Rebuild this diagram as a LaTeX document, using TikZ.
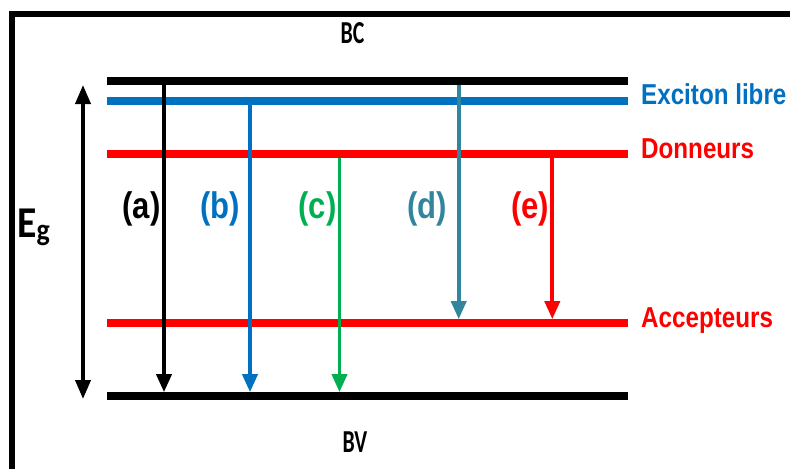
\documentclass[tikz,border=0pt]{standalone}
\usepackage{fontspec}
\usetikzlibrary{arrows.meta}
\newfontfamily\lblfont[FakeStretch=0.84]{Liberation Sans}
\newfontfamily\bandfont[FakeStretch=0.68]{Carlito}
\newfontfamily\egfont[FakeStretch=0.9]{Carlito}
\definecolor{excitonblue}{RGB}{0,112,192}
\definecolor{impurred}{RGB}{255,0,0}
\definecolor{transgreen}{RGB}{0,176,80}
\definecolor{transteal}{RGB}{49,133,156}
\begin{document}
\begin{tikzpicture}[
  level/.style={line width=7.7pt},
  trans/.style={line width=3.8pt, -{Triangle[width=15pt,length=18pt]},
    shorten <=3.85pt, shorten >=3.85pt},
  lvllabel/.style={anchor=base west, inner sep=0pt,
    font=\lblfont\bfseries\fontsize{28.8}{28.8}\selectfont},
  trlabel/.style={anchor=base, inner sep=0pt,
    font=\lblfont\bfseries\fontsize{37}{37}\selectfont},
  bandlabel/.style={anchor=base, inner sep=0pt,
    font=\bandfont\bfseries\fontsize{32}{32}\selectfont}]
% pixel grid of the page, y pointing down
\providecommand{\frameLineWidth}{6pt}
\begin{scope}[x=1pt, y=-1pt]
  \useasboundingbox (0,0) rectangle (790,469);
  % Frame (top and left sides)
  \draw[line width=\frameLineWidth] (11.5,469) -- (11.5,14) -- (790,14);
  % Levels
  \coordinate (bcL) at (107,81);   \coordinate (bcR) at (628,81);
  \coordinate (exL) at (107,101);  \coordinate (exR) at (628,101);
  \coordinate (doL) at (107,154);  \coordinate (doR) at (628,154);
  \coordinate (acL) at (107,323);  \coordinate (acR) at (628,323);
  \coordinate (bvL) at (107,396);  \coordinate (bvR) at (628,396);
  \draw[level, black] (bcL) -- (bcR);
  \draw[level, excitonblue] (exL) -- (exR);
  \draw[level, impurred] (doL) -- (doR);
  \draw[level, impurred] (acL) -- (acR);
  \draw[level, black] (bvL) -- (bvR);
  % Level labels
  \node[lvllabel, text=excitonblue] (exLbl) at (641,104.5) {Exciton libre};
  \node[lvllabel, text=impurred] (doLbl) at (641,158.5) {Donneurs};
  \node[lvllabel, text=impurred] (acLbl) at (641,327) {Accepteurs};
  \node[bandlabel] (bcLbl) at (352.5,43.5) {BC};
  \node[bandlabel] (bvLbl) at (355,452) {BV};
  % Gap
  \coordinate (egTop) at (83,85);
  \coordinate (egBot) at (83,399);
  \draw[line width=3.8pt, {Triangle[width=15pt,length=19pt]}-{Triangle[width=15pt,length=19pt]}] (egTop) -- (egBot);
  \node[anchor=base west, inner sep=0pt, font=\egfont\bfseries\fontsize{44}{44}\selectfont] (egLbl) at (17,237) {E\raisebox{-3pt}{\fontsize{31}{31}\selectfont g}};
  % Transitions
  \coordinate (colA) at (164,0);
  \coordinate (colB) at (250,0);
  \coordinate (colC) at (339.5,0);
  \coordinate (colD) at (458.7,0);
  \coordinate (colE) at (552.3,0);
  \draw[trans, black] (colA |- bcL) -- (colA |- bvL);
  \draw[trans, excitonblue] (colB |- exL) -- (colB |- bvL);
  \draw[trans, transgreen] (colC |- doL) -- (colC |- bvL);
  \draw[trans, transteal] (colD |- bcL) -- (colD |- acL);
  \draw[trans, impurred] (colE |- doL) -- (colE |- acL);
  % Transition labels
  \node[trlabel, text=black] (aLbl) at (141.5,218) {(a)};
  \node[trlabel, text=excitonblue] (bLbl) at (220,218) {(b)};
  \node[trlabel, text=transgreen] (cLbl) at (317.5,218) {(c)};
  \node[trlabel, text=transteal] (dLbl) at (427,218) {(d)};
  \node[trlabel, text=impurred] (eLbl) at (530,218) {(e)};
\end{scope}
\end{tikzpicture}
\end{document}
